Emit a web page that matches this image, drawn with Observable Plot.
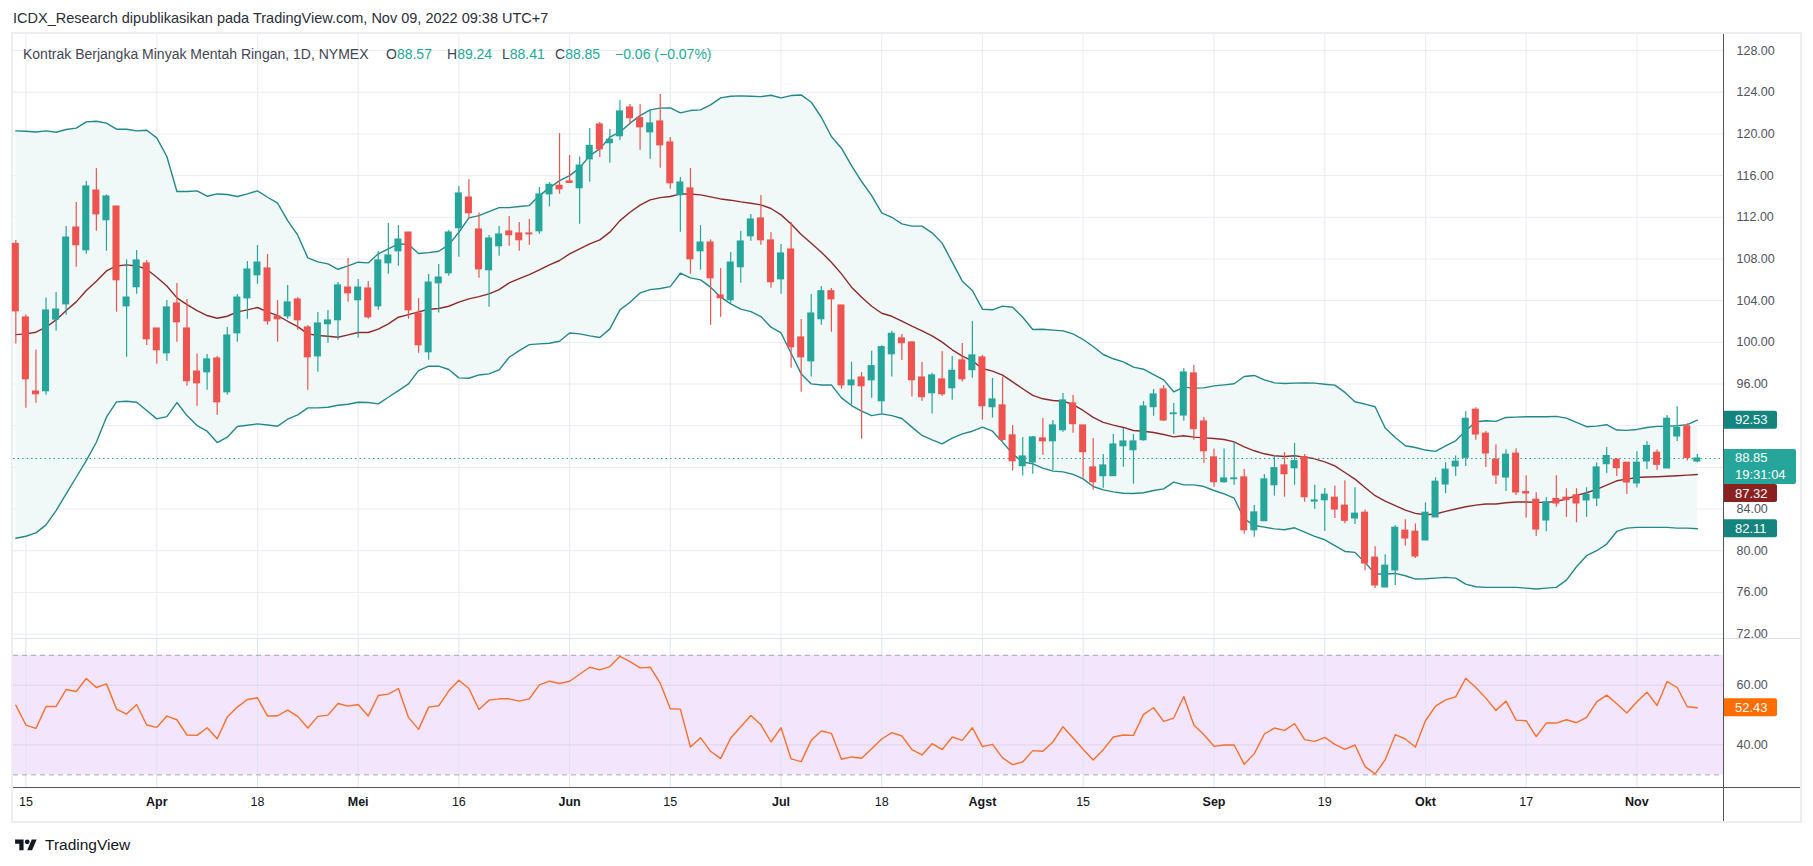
<!DOCTYPE html>
<html><head><meta charset="utf-8">
<script src="https://cdn.jsdelivr.net/npm/d3@7"></script>
<script src="https://cdn.jsdelivr.net/npm/@observablehq/plot@0.6"></script>
<style>
body{margin:0;background:#fff;}
#root{position:relative;width:1813px;height:866px;overflow:hidden;font-family:"Liberation Sans",Arial,sans-serif;background:#fff;}
.abs{position:absolute;white-space:nowrap;}
</style></head><body><div id="root"></div>
<script>
// ---- data ----
const open = [109.44,102.38,95.27,95.31,102.18,103.65,111.01,108.84,114.56,111.72,
113.03,103.46,105.29,107.56,101.32,98.95,103.72,101.32,97.19,97.13,
98.44,95.21,100.87,104.23,106.44,107.08,102.47,102.50,104.10,101.42,
98.66,101.74,102.12,105.25,104.04,105.16,103.46,107.59,108.74,110.53,
102.76,99.05,105.67,106.63,110.95,113.89,110.82,106.92,109.22,110.63,
110.44,110.44,110.66,114.21,115.01,115.43,114.79,117.57,120.90,119.11,
119.78,122.53,121.51,120.16,121.19,119.17,114.12,114.76,108.74,109.57,
104.49,104.04,107.21,110.18,111.88,109.77,106.05,108.90,100.46,98.18,
102.22,104.90,103.53,95.88,96.62,96.36,94.35,98.86,100.37,99.98,
96.62,95.12,96.43,95.60,98.26,97.33,98.54,93.78,93.94,91.06,
88.12,88.47,90.77,90.51,91.57,94.13,92.02,87.99,87.16,87.16,
90.03,89.65,90.61,93.78,95.47,93.11,92.98,97.01,92.40,88.95,
86.58,86.87,87.03,81.97,82.84,86.29,88.18,87.92,88.98,84.72,
84.85,85.08,84.32,83.10,83.64,79.33,76.48,78.11,81.92,81.82,
80.99,83.20,86.36,88.09,88.92,93.53,91.23,88.73,87.03,89.31,
85.63,84.89,82.91,84.96,85.08,85.31,84.83,85.02,88.31,88.73,
88.44,86.46,88.57,89.40,87.90,90.97,91.93,88.57];
const high = [109.77,102.63,99.27,104.26,104.77,111.11,113.41,115.43,116.67,114.15,
113.03,107.91,108.81,107.85,101.32,104.01,105.64,104.10,98.89,98.82,
98.63,101.42,104.58,107.75,109.29,108.42,104.01,105.45,104.29,101.61,
102.86,103.05,105.73,108.04,106.02,105.83,108.71,111.40,111.20,110.53,
104.20,106.50,107.46,110.73,114.95,115.62,112.42,110.25,111.11,112.07,
111.49,111.78,114.85,115.33,120.03,117.92,117.79,120.51,121.09,120.42,
123.20,122.82,122.82,122.31,123.78,119.65,115.81,116.68,111.20,109.83,
107.08,108.61,110.63,112.26,114.08,110.53,109.38,111.49,102.18,104.58,
105.35,105.16,103.53,98.09,97.10,99.14,99.66,101.06,100.75,100.08,
98.06,97.04,99.12,98.64,99.89,102.00,98.74,96.53,96.66,92.02,
90.87,90.96,92.69,92.50,95.09,94.90,92.02,90.77,89.23,91.15,
91.73,91.15,94.32,95.47,95.86,94.13,97.49,97.78,92.79,89.75,
89.75,90.42,87.80,84.34,87.32,89.14,89.43,90.29,89.23,86.29,
85.97,86.20,86.71,86.04,83.90,80.38,79.61,82.40,82.97,82.56,
84.60,87.00,88.44,89.08,93.34,93.72,91.45,90.17,89.69,89.79,
87.19,85.56,85.08,87.19,85.95,85.95,86.04,88.41,89.91,88.86,
88.44,89.50,90.46,89.66,92.98,93.82,92.19,89.24];
const low = [99.85,93.67,94.15,94.92,101.06,102.60,107.21,108.45,110.66,108.74,
102.89,98.57,104.61,99.69,97.90,98.18,100.01,95.79,93.87,95.40,
93.00,94.92,100.01,102.22,105.57,101.64,100.01,102.22,101.16,95.40,
97.13,99.91,100.20,103.85,100.39,102.22,103.08,106.53,107.30,102.22,
98.95,98.28,102.82,106.34,108.17,111.91,106.15,103.37,108.26,109.22,
108.74,109.32,110.37,113.00,114.21,115.24,111.33,115.36,117.73,117.19,
119.36,120.87,118.43,117.57,116.71,114.69,110.57,106.53,106.92,101.64,
102.41,103.75,105.67,109.70,109.32,105.19,104.61,97.51,95.21,96.68,
101.64,100.97,95.50,93.96,90.70,94.63,93.13,96.68,98.26,94.74,
94.35,93.11,94.80,94.45,96.18,96.56,92.53,92.72,90.51,87.64,
87.16,87.35,89.17,87.70,91.38,91.28,86.96,85.81,86.00,87.12,
88.02,86.39,90.51,92.91,92.43,91.15,92.43,90.61,88.40,86.10,
86.48,86.29,81.59,81.30,82.84,85.24,85.14,86.29,84.66,83.99,
81.85,83.10,82.59,82.52,78.08,76.38,76.45,76.67,80.44,79.26,
80.96,83.20,85.47,87.13,88.09,90.59,87.99,86.36,85.69,85.31,
83.13,81.37,81.82,84.16,83.20,82.68,83.20,84.25,87.42,87.13,
85.40,86.01,87.80,87.71,87.90,90.49,88.60,88.41];
const close = [102.98,96.46,95.02,103.05,103.14,110.05,109.32,114.95,112.29,113.99,
105.96,104.29,107.85,100.30,99.24,103.34,101.93,96.27,96.07,98.35,
94.25,100.65,104.29,106.98,107.65,102.02,102.22,103.82,102.12,98.57,
101.80,102.09,105.45,104.71,105.25,102.41,107.85,108.33,109.86,103.08,
99.72,105.73,106.21,110.53,114.28,112.39,107.01,109.96,110.34,110.28,
109.80,110.37,114.18,115.11,114.69,115.30,116.96,118.85,118.53,119.43,
122.15,121.51,120.64,121.00,118.91,115.27,115.33,107.97,109.57,106.15,
104.23,107.65,109.67,111.78,109.80,105.77,108.52,99.53,98.57,102.76,
104.90,104.13,95.88,96.33,95.79,97.71,99.53,100.81,99.92,96.37,
94.74,96.82,95.02,97.26,96.46,98.74,93.87,94.51,90.64,88.59,
89.04,90.87,90.51,92.02,94.42,92.15,89.46,86.58,88.18,90.19,
90.48,90.48,93.84,94.99,92.50,93.17,97.10,91.67,89.55,86.58,
86.93,86.93,81.97,83.67,86.84,87.92,87.35,88.59,85.14,84.82,
85.37,83.96,82.88,83.55,78.78,76.67,78.56,82.20,81.18,79.45,
83.64,86.62,87.77,88.54,92.66,91.16,89.34,87.23,89.21,85.60,
85.50,82.04,84.64,84.54,84.86,84.54,85.37,87.99,89.08,87.93,
86.55,88.44,90.04,88.25,92.66,91.77,88.91,88.85];
const bbUpper = [120.29,120.26,120.19,120.29,120.16,120.42,120.55,121.15,121.22,121.03,
120.45,120.45,120.29,120.35,119.62,117.83,114.47,114.47,114.53,114.02,
114.24,114.18,113.99,114.24,114.53,113.92,113.35,111.68,110.28,108.10,
107.72,107.53,107.01,107.33,107.69,107.62,108.49,108.97,109.45,109.38,
108.52,108.61,108.74,109.35,110.56,111.94,112.16,112.55,112.93,112.93,
113.03,113.12,114.08,114.82,115.52,116.00,116.74,117.92,118.56,119.68,
120.16,121.03,121.76,122.31,122.47,122.50,122.02,122.24,122.31,122.79,
123.46,123.62,123.65,123.62,123.58,123.71,123.46,123.68,123.74,123.04,
121.60,119.75,118.63,116.96,115.43,114.08,112.42,112.00,111.37,111.15,
111.15,110.51,109.52,107.69,105.87,104.97,103.18,103.12,103.47,103.37,
102.41,101.23,101.26,101.17,101.10,100.81,100.27,99.60,98.83,98.42,
98.13,97.62,97.42,96.91,96.40,95.25,95.70,95.60,95.63,95.82,
95.92,96.02,96.72,96.82,96.40,96.11,96.05,96.08,96.11,96.08,
95.98,95.89,95.19,94.30,94.07,93.82,91.77,90.87,90.07,89.91,
89.66,89.53,90.07,90.55,91.51,92.38,92.47,92.41,92.79,92.82,
92.86,92.86,92.86,92.89,92.73,92.31,91.90,91.96,92.09,91.58,
91.55,91.64,91.83,91.93,91.93,91.99,92.10,92.53];
const bbBasis = [100.74,100.81,100.97,101.45,102.15,103.05,103.88,104.97,105.86,106.85,
107.33,107.43,107.33,107.01,106.25,105.41,104.26,103.62,103.05,102.57,
102.31,102.50,102.92,103.11,103.34,102.92,102.57,102.02,101.51,100.81,
100.65,100.58,100.49,100.71,100.94,100.94,101.26,101.77,102.41,102.66,
102.92,103.17,103.24,103.46,103.85,104.17,104.39,104.65,105.06,105.70,
106.12,106.50,106.95,107.43,107.85,108.49,108.97,109.45,109.83,110.57,
111.68,112.48,113.16,113.67,113.89,113.99,114.24,114.24,114.15,113.96,
113.76,113.64,113.48,113.35,113.19,112.84,112.23,111.36,110.34,109.51,
108.65,107.69,106.57,105.29,104.33,103.46,102.79,102.50,102.03,101.55,
101.10,100.62,100.02,99.28,98.67,98.22,97.49,97.23,96.85,96.21,
95.54,94.90,94.58,94.42,94.35,94.03,93.46,92.79,92.31,92.05,
91.83,91.54,91.47,91.35,91.15,90.93,91.03,90.90,90.83,90.77,
90.67,90.45,89.97,89.59,89.30,89.11,89.04,89.11,88.98,88.82,
88.53,88.15,87.51,86.87,86.07,85.28,84.76,84.32,83.90,83.58,
83.45,83.52,83.77,84.00,84.22,84.38,84.48,84.48,84.60,84.67,
84.67,84.64,84.64,84.73,84.96,85.31,85.56,85.88,86.30,86.71,
86.87,87.03,87.07,87.10,87.15,87.20,87.25,87.32];
const bbLower = [81.20,81.39,81.71,82.48,83.85,85.45,87.05,88.65,90.41,92.81,
94.28,94.35,94.25,93.45,92.65,92.87,94.22,92.97,92.01,91.47,
90.38,90.89,91.92,92.04,92.17,92.07,91.95,92.62,93.03,93.71,
93.71,93.77,93.96,94.06,94.25,94.22,94.09,94.73,95.37,96.01,
97.29,97.71,97.71,97.39,96.59,96.55,96.87,96.97,97.35,98.57,
99.21,99.78,99.85,99.91,100.10,100.90,100.81,100.62,100.46,101.29,
103.11,103.85,104.74,105.06,105.16,105.35,106.63,106.18,105.99,105.29,
104.33,103.69,103.18,102.95,102.47,101.45,100.90,98.95,96.97,96.01,
95.91,95.91,94.67,93.93,93.39,92.97,93.13,92.97,92.69,91.86,
91.06,90.64,90.26,90.80,91.22,91.47,91.86,91.47,90.42,89.30,
88.50,88.34,87.92,87.64,87.57,87.32,86.90,86.16,85.84,85.65,
85.52,85.49,85.56,85.78,85.94,86.58,86.32,86.32,86.16,85.78,
85.46,85.04,83.06,82.42,82.26,82.10,82.01,82.20,81.78,81.37,
81.05,80.48,79.93,79.84,78.88,77.76,77.76,77.82,77.60,77.28,
77.31,77.37,77.44,77.37,76.80,76.54,76.48,76.48,76.48,76.48,
76.41,76.32,76.41,76.48,77.18,78.46,79.52,80.00,80.64,81.85,
82.17,82.24,82.24,82.24,82.24,82.17,82.17,82.11];
const rsi = [53.33,46.67,45.56,52.89,52.89,58.56,57.89,62.22,59.22,60.44,
52.00,50.33,53.56,46.67,45.89,49.67,48.44,43.33,43.22,45.78,
42.11,49.33,52.67,55.22,55.78,49.67,49.78,51.67,49.56,45.67,
49.56,50.00,53.89,53.00,53.56,49.67,56.56,57.00,58.89,49.22,
45.22,52.67,53.11,58.11,61.67,58.89,51.89,55.00,55.44,55.44,
54.67,55.44,60.11,61.33,60.56,61.33,63.67,66.00,65.11,66.22,
69.67,67.89,65.78,66.00,60.67,52.11,52.00,39.33,42.44,37.89,
35.44,42.33,46.11,49.89,46.78,41.00,45.78,35.33,34.44,41.55,
44.67,43.89,35.22,36.00,35.55,38.78,42.00,44.11,43.00,38.44,
36.67,40.44,38.44,42.67,41.55,45.78,39.44,40.22,35.67,33.44,
34.33,38.11,37.89,41.00,46.11,42.33,38.55,35.00,38.44,42.67,
43.33,43.22,50.22,52.44,47.89,49.00,56.22,46.67,43.44,39.55,
40.00,40.00,33.55,37.11,43.67,45.67,44.89,47.11,41.78,41.22,
42.55,40.22,38.55,40.00,32.78,30.33,35.00,43.44,42.00,39.33,
48.11,53.00,55.11,56.11,62.33,59.22,55.67,51.55,54.67,48.33,
48.11,42.78,47.33,47.33,48.44,47.44,49.22,54.44,56.67,53.78,
50.67,54.44,57.67,53.22,61.22,59.22,52.78,52.43];

// x ticks: bar index of each labelled date (bars are trading days from 14 Mar 2022)
const tickIndex  = [1,14,24,34,44,55,65,76,86,96,106,119,130,140,150,161];
const tickLabels = ["15","Apr","18","Mei","16","Jun","15","Jul","18","Agst","15","Sep","19","Okt","17","Nov"];
const tickIsMonth= [false,true,false,true,false,true,false,true,false,true,false,true,false,true,false,true];
const priceTicks = [72,76,80,84,88,92,96,100,104,108,112,116,120,124,128];
const rsiTicks = [40,60];
const rsiBand = [30,70];
const lastUpper = 92.53, lastBasis = 87.32, lastLower = 82.11, lastClose = 88.85, lastRsi = 52.43;
const countdown = "19:31:04";

// ---- layout constants ----
const UP = "#26a69a", DOWN = "#ef5350";
const BAND = "#23888a", BASIS = "#8e2b2b";
const xDomain = [-0.23, 169.6];
const W = 1813;
const FONT = "Liberation Sans, Arial, sans-serif";

const rows = close.map((c, i) => ({i, open: open[i], high: high[i], low: low[i], close: c,
  upper: bbUpper[i], basis: bbBasis[i], lower: bbLower[i], rsi: rsi[i]}));
const ups = rows.filter(d => d.close >= d.open);
const downs = rows.filter(d => d.close < d.open);
const ticks = tickIndex.map((t, k) => ({i: t, label: tickLabels[k], month: tickIsMonth[k]}));

const root = document.getElementById("root");
function div(css, html) { const e = document.createElement("div"); e.className = "abs"; e.style.cssText = css; if (html != null) e.innerHTML = html; root.appendChild(e); return e; }

// header
div("left:13px;top:10px;font-size:14.5px;color:#2a2e39;", "ICDX_Research dipublikasikan pada TradingView.com, Nov 09, 2022 09:38 UTC+7");
// frame
div("left:11px;top:32px;width:1791px;height:791px;border:2px solid #eceef2;box-sizing:border-box;");

const xScale = {type: "linear", domain: xDomain, range: [13, 1723], axis: null};
const PH = 605;
const yPrice = {domain: [71.48, 129.54], range: [PH, 0]};
const yPx = v => yPrice.range[0] + (v - yPrice.domain[0]) / (yPrice.domain[1] - yPrice.domain[0]) * (yPrice.range[1] - yPrice.range[0]);

// tag boxes occupy these vertical spans on the price axis; hide tick labels hidden under them
const closeTop = yPx(lastClose) - 9, closeBot = closeTop + 35;
const basisC = Math.max(yPx(lastBasis), closeBot + 9);
const tagSpans = [[yPx(lastUpper) - 9, yPx(lastUpper) + 9], [closeTop, closeBot], [basisC - 9, basisC + 9], [yPx(lastLower) - 9, yPx(lastLower) + 9]];
const visibleTicks = priceTicks.filter(t => { const y = yPx(t); return !tagSpans.some(([a, b]) => y + 5 > a && y - 5 < b); });

// ---- price pane ----
const price = Plot.plot({
  width: W, height: PH, marginTop: 0, marginBottom: 0, marginLeft: 13, marginRight: 90,
  x: xScale,
  y: {...yPrice, axis: null},
  style: {background: "transparent", fontFamily: FONT, fontSize: "12.5px", overflow: "visible"},
  marks: [
    Plot.gridX(tickIndex, {stroke: "#e8edf3", strokeOpacity: 1}),
    Plot.gridY(priceTicks, {stroke: "#e8edf3", strokeOpacity: 1}),
    Plot.areaY(rows, {x: "i", y1: "lower", y2: "upper", fill: "#f1f8f8", fillOpacity: 1}),
    Plot.lineY(rows, {x: "i", y: "upper", stroke: BAND, strokeWidth: 1.4}),
    Plot.lineY(rows, {x: "i", y: "lower", stroke: BAND, strokeWidth: 1.4}),
    Plot.lineY(rows, {x: "i", y: "basis", stroke: BASIS, strokeWidth: 1.4}),
    Plot.ruleY([lastClose], {stroke: UP, strokeDasharray: "1.5,3", strokeWidth: 1}),
    Plot.ruleX(ups, {x: "i", y1: "low", y2: "high", stroke: UP, strokeWidth: 1.2}),
    Plot.ruleX(downs, {x: "i", y1: "low", y2: "high", stroke: DOWN, strokeWidth: 1.2}),
    Plot.rect(ups, {x1: d => d.i - 0.35, x2: d => d.i + 0.35, y1: "open", y2: "close", fill: UP, insetTop: -0.6, insetBottom: -0.6}),
    Plot.rect(downs, {x1: d => d.i - 0.35, x2: d => d.i + 0.35, y1: "open", y2: "close", fill: DOWN, insetTop: -0.6, insetBottom: -0.6}),
    Plot.axisY(visibleTicks, {anchor: "right", label: null, tickSize: 0, tickPadding: 13, tickFormat: d => d.toFixed(2), fill: "#50535e", fontSize: 12.5})
  ]
});
price.style.position = "absolute"; price.style.left = "0px"; price.style.top = "34px";
root.appendChild(price);

function tag(svg, top, h, w, fill, lines) {
  const g = d3.select(svg).append("g");
  g.append("path")
    .attr("d", `M1723,${top}h${w - 2}a2,2 0 0 1 2,2v${h - 4}a2,2 0 0 1 -2,2h${-(w - 2)}z`)
    .attr("fill", fill);
  lines.forEach((t, k) => g.append("text").attr("x", 1735).attr("y", top + h / (2 * lines.length) + k * 16.5).attr("dy", "0.36em")
    .attr("text-anchor", "start").attr("fill", "#fff").attr("font-size", 13).attr("font-family", FONT).text(t));
}
const ys = price.scale("y");
tag(price, ys.apply(lastUpper) - 9, 18, 54, "#14847f", [lastUpper.toFixed(2)]);
tag(price, ys.apply(lastClose) - 9, 35, 73, UP, [lastClose.toFixed(2), countdown]);
tag(price, Math.max(ys.apply(lastBasis), closeBot + 9) - 9, 18, 54, "#8a2121", [lastBasis.toFixed(2)]);
tag(price, ys.apply(lastLower) - 9, 18, 54, "#14847f", [lastLower.toFixed(2)]);

// legend line inside the price pane
const lg = "top:46px;font-size:14px;";
div("left:23px;" + lg + "color:#434651;", "Kontrak Berjangka Minyak Mentah Ringan, 1D, NYMEX");
const ohlc = [["O", open[167], 386], ["H", high[167], 447], ["L", low[167], 502], ["C", close[167], 555]];
ohlc.forEach(([k, v, x]) => div(`left:${x}px;` + lg + "color:#434651;", `${k}<span style="color:#22ab94">${v.toFixed(2)}</span>`));
const chg = close[167] - close[166];
const sgn = chg < 0 ? "\u2212" : "+";
div("left:615px;" + lg + "color:#22ab94;", `${sgn}${Math.abs(chg).toFixed(2)} (${sgn}${Math.abs(chg / close[166] * 100).toFixed(2)}%)`);

// ---- RSI pane ----
const RH = 183, RP = 148;
const rsiPlot = Plot.plot({
  width: W, height: RH, marginTop: 0, marginBottom: RH - RP, marginLeft: 13, marginRight: 90,
  x: xScale,
  y: {domain: [25.78, 75.28], range: [RP, 0], axis: null},
  style: {background: "transparent", fontFamily: FONT, fontSize: "12.5px", overflow: "visible"},
  marks: [
    Plot.rect([rsiBand], {x1: () => xDomain[0], x2: () => xDomain[1], y1: d => d[0], y2: d => d[1], fill: "#f3e6fc"}),
    Plot.gridX(tickIndex, {stroke: "#dfe5ee", strokeOpacity: 1}),
    Plot.gridY(rsiTicks, {stroke: "#dcd2e8", strokeOpacity: 1}),
    Plot.ruleY(rsiBand, {stroke: "#aaa3b5", strokeDasharray: "5,4", strokeWidth: 1}),
    Plot.lineY(rows, {x: "i", y: "rsi", stroke: "#f7702c", strokeWidth: 1.4}),
    Plot.axisY(rsiTicks, {anchor: "right", label: null, tickSize: 0, tickPadding: 13, tickFormat: d => d.toFixed(2), fill: "#50535e", fontSize: 12.5}),
    Plot.text(ticks.filter(d => !d.month), {x: "i", text: "label", frameAnchor: "bottom", dy: 18, fill: "#131722", fontSize: 12.5}),
    Plot.text(ticks.filter(d => d.month), {x: "i", text: "label", frameAnchor: "bottom", dy: 18, fill: "#131722", fontSize: 12.5, fontWeight: "bold"})
  ]
});
rsiPlot.style.position = "absolute"; rsiPlot.style.left = "0px"; rsiPlot.style.top = "639px";
root.appendChild(rsiPlot);
tag(rsiPlot, rsiPlot.scale("y").apply(lastRsi) - 9, 18, 54, "#ff6d00", [lastRsi.toFixed(2)]);

// pane separators and axis lines
div("left:13px;top:638px;width:1787px;height:1px;background:#e0e3eb;");
div("left:13px;top:786.5px;width:1787px;height:1.5px;background:#50535e;");
div("left:1722.5px;top:34px;width:1.2px;height:787px;background:#50535e;");

// footer logo
div("left:13px;top:836px;display:flex;align-items:center;gap:6px;font-size:15.5px;color:#131722;",
  '<svg width="26" height="17" viewBox="0 0 36 28"><path d="M14 22H7V11H0V4h14v18zM28 22h-8l7.5-18h8L28 22z" fill="#131722"/><circle cx="20" cy="8" r="4" fill="#131722"/></svg><span>TradingView</span>');
</script>
</body></html>
